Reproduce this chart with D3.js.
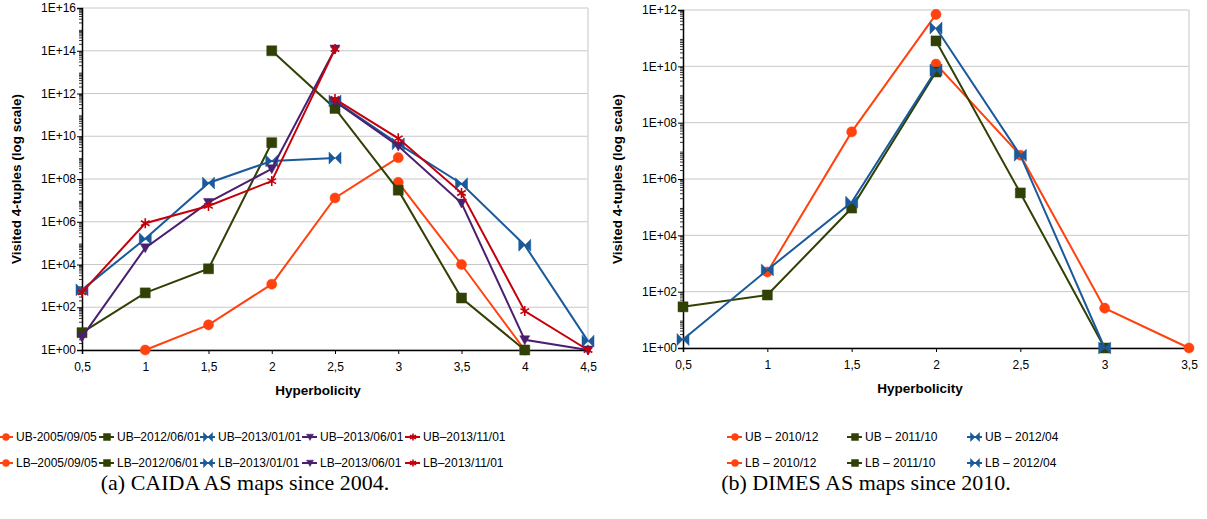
<!DOCTYPE html>
<html>
<head>
<meta charset="utf-8">
<script src="https://cdn.jsdelivr.net/npm/d3@7"></script>
<style>
  body { margin: 0; background: #fff; }
  svg { display: block; font-family: "Liberation Sans", Arial, sans-serif; }
  .grid line { stroke: #c8c8c8; stroke-width: 1; }
  .axis path, .axis line { stroke: #000; }
  .tick-label { font-size: 12px; fill: #000; }
  .axis-title { font-size: 13.5px; font-weight: bold; fill: #000; }
  .legend-text { font-size: 12px; fill: #000; }
  .caption { font-family: "Liberation Serif", "Times New Roman", serif; font-size: 22px; fill: #000; }
</style>
</head>
<body>
<svg id="chart" width="1207" height="519"></svg>
<script>
// Значения по оси X (гиперболичность)
const caidaHyp = [0.5, 1, 1.5, 2, 2.5, 3, 3.5, 4, 4.5];
const dimesHyp = [0.5, 1, 1.5, 2, 2.5, 3, 3.5];

// CAIDA (a) — по два ряда на каждую дату
const caida2005LB = [null, 1, 15, 1200, 1.3e7, 1e9, null, null, null];
const caida2005UB = [null, null, null, null, null, 7e7, 1e4, 1, null];
const caida2012LB = [6.5, 470, 6300, 5e9, null, null, null, null, null];
const caida2012UB = [null, null, null, 1e14, 2e11, 3e7, 270, 1, null];
const caida2013aLB = [650, 1.6e5, 6.5e7, 7e8, 9.5e8, null, null, null, null];
const caida2013aUB = [null, null, null, null, 4.5e11, 4.4e9, 6e7, 8e4, 2.6];
const caida2013bLB = [4, 6e4, 8e6, 3e8, 1.2e14, null, null, null, null];
const caida2013bUB = [null, null, null, null, 4.2e11, 3.5e9, 7.5e6, 3, 1];
const caida2013cLB = [500, 8.5e5, 5.5e6, 8e7, 1.2e14, null, null, null, null];
const caida2013cUB = [null, null, null, null, 5.5e11, 8e9, 2.2e7, 66, 1];

// DIMES (b)
const dimes2010LB = [null, 500, 4.7e7, 7e11, null, null, null];
const dimes2010UB = [null, null, null, 1.2e10, 7e6, 26, 1];
const dimes2011LB = [29, 76, 9.3e4, 6.3e9, null, null, null];
const dimes2011UB = [null, null, null, 8e10, 3.2e5, 1, null];
const dimes2012LB = [2, 590, 1.5e5, 7.4e9, null, null, null];
const dimes2012UB = [null, null, null, 2.3e11, 7e6, 1, null];

// Подписи легенд
const caidaLegendUB = ['UB-2005/09/05', 'UB\u20132012/06/01', 'UB\u20132013/01/01', 'UB\u20132013/06/01', 'UB\u20132013/11/01'];
const caidaLegendLB = ['LB\u20132005/09/05', 'LB\u20132012/06/01', 'LB\u20132013/01/01', 'LB\u20132013/06/01', 'LB\u20132013/11/01'];
const dimesLegendUB = ['UB \u2013 2010/12', 'UB \u2013 2011/10', 'UB \u2013 2012/04'];
const dimesLegendLB = ['LB \u2013 2010/12', 'LB \u2013 2011/10', 'LB \u2013 2012/04'];

// Стили рядов (цвет + маркер)
const colors = { orange: '#ff420e', olive: '#314004', blue: '#1a5a9a', purple: '#4b1f6f', red: '#c5000b' };

const svg = d3.select('#chart');

// Маркеры
function markerPath(type, s) {
    if (type === 'circle') return d3.symbol(d3.symbolCircle, s * s * 0.8)();
    if (type === 'square') return `M${-s / 2},${-s / 2}h${s}v${s}h${-s}Z`;
    if (type === 'tri') return `M${-s / 2},${-s * 0.4}L${s / 2},${-s * 0.4}L0,${s * 0.5}Z`;
    if (type === 'bowtie') return `M${-s / 2},${-s / 2}L0,0L${-s / 2},${s / 2}Z M${s / 2},${-s / 2}L0,0L${s / 2},${s / 2}Z`;
    if (type === 'star') {
        const r = s / 2;
        let p = '';
        [90, 30, 150].forEach(a => {
            const dx = r * Math.cos(a * Math.PI / 180), dy = r * Math.sin(a * Math.PI / 180);
            p += `M${-dx},${-dy}L${dx},${dy}`;
        });
        return p;
    }
}

function drawMarker(g, type, color, x, y, s) {
    const m = g.append('path')
        .attr('transform', `translate(${x},${y})`)
        .attr('d', markerPath(type, s));
    if (type === 'star') m.attr('fill', 'none').attr('stroke', color).attr('stroke-width', 1.6);
    else m.attr('fill', color).attr('stroke', color).attr('stroke-width', 0.5);
}

// Отрисовка одной панели
function drawPanel(cfg) {
    const x = d3.scaleLinear().domain([cfg.hyp[0], cfg.hyp[cfg.hyp.length - 1]]).range([cfg.left, cfg.right]);
    const y = d3.scaleLog().domain([1, cfg.yMax]).range([cfg.bottom, cfg.top]);
    const g = svg.append('g');

    const majors = d3.range(0, Math.log10(cfg.yMax) + 1, 2).map(e => Math.pow(10, e));

    // Сетка
    g.append('g').attr('class', 'grid')
        .selectAll('line').data(majors).enter().append('line')
        .attr('x1', cfg.left).attr('x2', cfg.right)
        .attr('y1', d => y(d)).attr('y2', d => y(d));
    g.append('line')
        .attr('x1', cfg.right).attr('x2', cfg.right)
        .attr('y1', cfg.top).attr('y2', cfg.bottom)
        .attr('stroke', '#d8d8d8').attr('stroke-width', 1.5);

    // Ось Y с минорными делениями
    const minors = [];
    for (let e = 0; e < Math.log10(cfg.yMax); e++) {
        for (let k = 2; k <= 9; k++) minors.push(k * Math.pow(10, e));
    }
    const yAxis = d3.axisLeft(y).tickValues(majors).tickSize(5).tickFormat('');
    g.append('g').attr('class', 'axis')
        .attr('transform', `translate(${cfg.left},0)`)
        .call(yAxis)
        .call(a => a.select('.domain').attr('stroke-width', 1.5));
    g.append('g').selectAll('line').data(minors).enter().append('line')
        .attr('x1', cfg.left - 3).attr('x2', cfg.left)
        .attr('y1', d => y(d)).attr('y2', d => y(d))
        .attr('stroke', '#000').attr('stroke-width', 0.8);
    g.append('g').selectAll('text').data(majors).enter().append('text')
        .attr('class', 'tick-label')
        .attr('x', cfg.left - 6).attr('y', d => y(d)).attr('dy', '0.35em')
        .attr('text-anchor', 'end')
        .text(d => '1E+' + String(Math.round(Math.log10(d))).padStart(2, '0'));

    // Ось X
    const xAxis = d3.axisBottom(x).tickValues(cfg.hyp).tickSize(4)
        .tickFormat(d => String(d).replace('.', ','));
    g.append('g').attr('class', 'axis')
        .attr('transform', `translate(0,${cfg.bottom})`)
        .call(xAxis)
        .call(a => a.select('.domain').attr('stroke-width', 1.5))
        .call(a => a.selectAll('text').attr('class', 'tick-label').attr('dy', '1.2em').style('font-size', '12px').style('font-family', null));

    // Подписи осей
    g.append('text').attr('class', 'axis-title')
        .attr('x', cfg.xTitleX).attr('y', cfg.bottom + 45)
        .attr('text-anchor', 'middle').text('Hyperbolicity');
    g.append('text').attr('class', 'axis-title')
        .attr('transform', `translate(${cfg.yTitleX},${(cfg.top + cfg.bottom) / 2}) rotate(-90)`)
        .attr('text-anchor', 'middle').text('Visited 4-tuples (log scale)');

    // Ряды
    const line = d3.line()
        .defined(d => d[1] !== null)
        .x(d => x(d[0])).y(d => y(d[1]));
    cfg.series.forEach(s => {
        const pts = cfg.hyp.map((h, i) => [h, s.values[i]]);
        g.append('path').datum(pts)
            .attr('d', line)
            .attr('fill', 'none')
            .attr('stroke', s.color)
            .attr('stroke-width', 2);
        pts.filter(d => d[1] !== null).forEach(d => drawMarker(g, s.marker, s.color, x(d[0]), y(d[1]), s.marker === 'bowtie' ? 12 : 10));
    });

    // Легенда
    cfg.legend.forEach(row => {
        row.items.forEach((it, i) => {
            const tx = cfg.legendX[i];
            g.append('line')
                .attr('x1', tx - 18).attr('x2', tx - 3)
                .attr('y1', row.y).attr('y2', row.y)
                .attr('stroke', it.color).attr('stroke-width', 2);
            drawMarker(g, it.marker, it.color, tx - 10, row.y, it.marker === 'bowtie' ? 9 : 7);
            g.append('text').attr('class', 'legend-text')
                .attr('x', tx).attr('y', row.y).attr('dy', '0.35em')
                .text(it.label);
        });
    });

    // Подпись панели
    g.append('text').attr('class', 'caption')
        .attr('x', cfg.captionX).attr('y', 490)
        .attr('text-anchor', 'middle').text(cfg.caption);
}

const caidaStyles = [
    { color: colors.orange, marker: 'circle' },
    { color: colors.olive, marker: 'square' },
    { color: colors.blue, marker: 'bowtie' },
    { color: colors.purple, marker: 'tri' },
    { color: colors.red, marker: 'star' }
];
const dimesStyles = [
    { color: colors.orange, marker: 'circle' },
    { color: colors.olive, marker: 'square' },
    { color: colors.blue, marker: 'bowtie' }
];

drawPanel({
    hyp: caidaHyp, yMax: 1e16,
    left: 82, right: 588, top: 8, bottom: 350,
    xTitleX: 318, yTitleX: 21,
    series: [
        { values: caida2005LB, ...caidaStyles[0] }, { values: caida2005UB, ...caidaStyles[0] },
        { values: caida2012LB, ...caidaStyles[1] }, { values: caida2012UB, ...caidaStyles[1] },
        { values: caida2013aLB, ...caidaStyles[2] }, { values: caida2013aUB, ...caidaStyles[2] },
        { values: caida2013bLB, ...caidaStyles[3] }, { values: caida2013bUB, ...caidaStyles[3] },
        { values: caida2013cLB, ...caidaStyles[4] }, { values: caida2013cUB, ...caidaStyles[4] }
    ],
    legendX: [16, 117, 218, 320, 423],
    legend: [
        { y: 437, items: caidaLegendUB.map((l, i) => ({ label: l, ...caidaStyles[i] })) },
        { y: 463, items: caidaLegendLB.map((l, i) => ({ label: l, ...caidaStyles[i] })) }
    ],
    caption: '(a) CAIDA AS maps since 2004.', captionX: 245
});

drawPanel({
    hyp: dimesHyp, yMax: 1e12,
    left: 683, right: 1189, top: 10, bottom: 348,
    xTitleX: 920, yTitleX: 622,
    series: [
        { values: dimes2010LB, ...dimesStyles[0] }, { values: dimes2010UB, ...dimesStyles[0] },
        { values: dimes2011LB, ...dimesStyles[1] }, { values: dimes2011UB, ...dimesStyles[1] },
        { values: dimes2012LB, ...dimesStyles[2] }, { values: dimes2012UB, ...dimesStyles[2] }
    ],
    legendX: [745, 865, 985],
    legend: [
        { y: 437, items: dimesLegendUB.map((l, i) => ({ label: l, ...dimesStyles[i] })) },
        { y: 463, items: dimesLegendLB.map((l, i) => ({ label: l, ...dimesStyles[i] })) }
    ],
    caption: '(b) DIMES AS maps since 2010.', captionX: 866
});
</script>
</body>
</html>
